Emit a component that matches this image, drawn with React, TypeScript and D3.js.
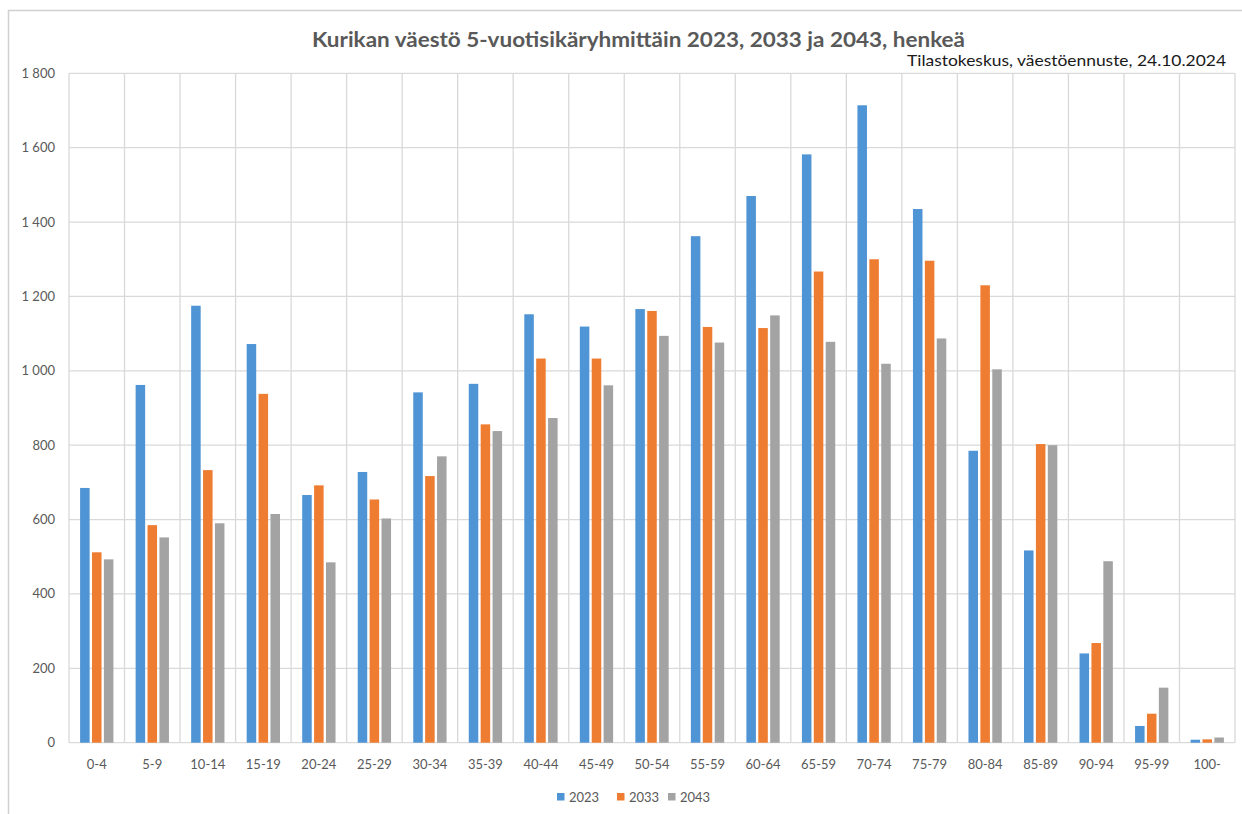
import React from "react";
import * as d3 from "d3";

const ageGroups = [
  "0-4", "5-9", "10-14", "15-19", "20-24", "25-29", "30-34", "35-39", "40-44", "45-49",
  "50-54", "55-59", "60-64", "65-59", "70-74", "75-79", "80-84", "85-89", "90-94", "95-99", "100-",
];
const years = ["2023", "2033", "2043"];
const values2023 = [685, 962, 1175, 1072, 666, 728, 942, 965, 1152, 1119, 1166, 1362, 1470, 1582, 1714, 1435, 785, 517, 240, 45, 8];
const values2033 = [512, 585, 733, 938, 692, 654, 717, 856, 1033, 1033, 1161, 1118, 1115, 1267, 1300, 1296, 1230, 803, 268, 78, 9];
const values2043 = [493, 552, 590, 615, 485, 603, 770, 838, 873, 961, 1094, 1076, 1149, 1078, 1019, 1087, 1004, 800, 488, 148, 14];
const yTicks = [0, 200, 400, 600, 800, 1000, 1200, 1400, 1600, 1800];
const colors = ["#4F94D4", "#EE7D31", "#A3A3A3"];

const W = 1242;
const H = 814;
const left = 69;
const right = 1235;
const top = 73.3;
const bottom = 742.7;
const font = "Lato, 'Noto Sans', sans-serif";

const fmt = (v: number) => d3.format(",")(v).replace(/,/g, " ");

export default function App() {
  const series = [values2023, values2033, values2043];
  const x0 = d3.scaleBand<string>().domain(ageGroups).range([left, right]).paddingInner(0).paddingOuter(0);
  const groupW = x0.bandwidth() * 0.6;
  const x1 = d3.scaleBand<string>().domain(years).range([0, groupW]).paddingInner(0.2).paddingOuter(0);
  const y = d3.scaleLinear().domain([0, 1800]).range([bottom, top]);

  const legendX = [557, 617, 668];

  return (
    <svg width={W} height={H} style={{ position: "absolute", left: 0, top: 0, background: "#fff" }}>
      <rect x={8.5} y={10.5} width={1260} height={820} fill="#fff" stroke="#D0D0D0" strokeWidth={1.5} />
      <text x={312} y={46.5} textLength={653} lengthAdjust="spacingAndGlyphs" fontFamily={font} fontWeight="bold" fontSize={20.5} fill="#595959">
        Kurikan väestö 5-vuotisikäryhmittäin 2023, 2033 ja 2043, henkeä
      </text>
      <text x={907} y={65.5} textLength={319} lengthAdjust="spacingAndGlyphs" fontFamily={font} fontSize={16} fill="#1a1a1a">
        Tilastokeskus, väestöennuste, 24.10.2024
      </text>
      {yTicks.map((t) => (
        <g key={t}>
          <line x1={left} x2={right} y1={y(t)} y2={y(t)} stroke="#D9D9D9" strokeWidth={1.3} />
          <text x={55} y={y(t) + 4.5} textAnchor="end" fontFamily={font} fontSize={13} fill="#595959">
            {fmt(t)}
          </text>
        </g>
      ))}
      {ageGroups.map((g) => (
        <line key={"v" + g} x1={x0(g)!} x2={x0(g)!} y1={top} y2={bottom} stroke="#D9D9D9" strokeWidth={1.3} />
      ))}
      <line x1={right} x2={right} y1={top} y2={bottom} stroke="#D9D9D9" strokeWidth={1.3} />
      {ageGroups.map((g, i) => {
        const gx = x0(g)! + (x0.bandwidth() - groupW) / 2;
        return (
          <g key={g}>
            {years.map((yr, s) => (
              <rect
                key={yr}
                x={gx + x1(yr)!}
                y={y(series[s][i])}
                width={x1.bandwidth()}
                height={bottom - y(series[s][i])}
                fill={colors[s]}
              />
            ))}
            <text x={x0(g)! + x0.bandwidth() / 2} y={769} textAnchor="middle" fontFamily={font} fontSize={13} fill="#595959">
              {g}
            </text>
          </g>
        );
      })}
      {years.map((yr, s) => (
        <g key={"l" + yr}>
          <rect x={legendX[s]} y={793} width={7.5} height={7.5} fill={colors[s]} />
          <text x={legendX[s] + 12} y={801.5} fontFamily={font} fontSize={13} fill="#595959">
            {yr}
          </text>
        </g>
      ))}
    </svg>
  );
}
